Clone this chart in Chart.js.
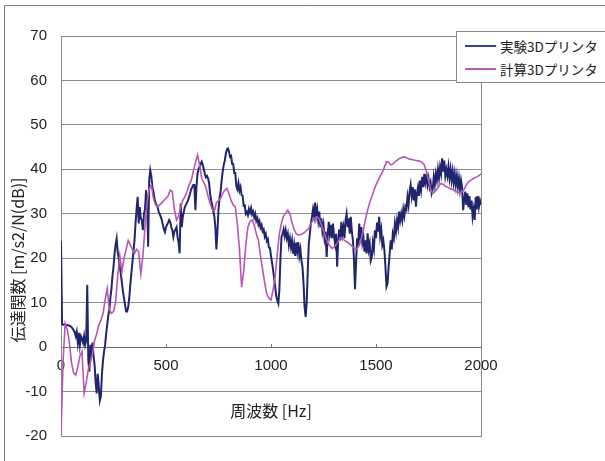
<!DOCTYPE html>
<html><head><meta charset="utf-8">
<script src="https://cdn.jsdelivr.net/npm/chart.js@4/dist/chart.umd.min.js"></script>
<style>
html,body{margin:0;padding:0;background:#fff;}
#wrap{position:relative;width:605px;height:461px;overflow:hidden;}
#legend{position:absolute;left:456px;top:31px;width:160px;height:52px;border:1px solid #8a8a8a;background:#fff;font-family:"Noto Sans CJK JP",sans-serif;font-size:13.5px;color:#222;box-sizing:border-box;}
.row{position:absolute;left:0;height:20px;line-height:20px;white-space:nowrap;}
.sw{position:absolute;left:8px;top:9px;width:31px;height:2px;}
.tx{position:absolute;left:43px;top:0;}
</style></head>
<body><div id="wrap"><canvas id="c" width="605" height="461"></canvas>
<div id="legend">
 <div class="row" style="top:4px"><span class="sw" style="background:#3b428f"></span><span class="tx">実験3Dプリンタ</span></div>
 <div class="row" style="top:27px"><span class="sw" style="background:#b85cb5"></span><span class="tx">計算3Dプリンタ</span></div>
</div></div>
<script>
// Frequency step of each series (Hz)
const blueStep = 5;
const purpleStep = 10;
const seriesNames = ["実験3Dプリンタ", "計算3Dプリンタ"];
const xTicks = [0, 500, 1000, 1500, 2000];
const yTicks = [70, 60, 50, 40, 30, 20, 10, 0, -10, -20];

// 実験3Dプリンタ (measured), 0..2000 Hz every 5 Hz
const blueValues = [
 23.7,5.2,5.0,5.1,5.0,4.9,5.0,4.9,4.8,4.7,4.5,4.2,3.8,3.4,2.5,3.5,1.0,3.2,0.5,2.5,
 2.0,1.0,2.5,0.5,1.5,14.0,-3.0,-5.5,0.5,-1.0,1.0,-2.0,-4.0,-8.0,-10.4,-6.0,-9.0,-12.0,-11.0,-6.0,
 -3.0,-1.0,0.5,3.0,5.0,7.0,8.3,11.0,13.0,16.0,18.0,21.0,23.0,24.4,21.5,20.0,18.0,16.5,14.5,12.5,
 11.0,9.5,8.0,8.0,9.0,11.0,14.0,16.6,19.0,21.5,24.0,28.0,31.0,33.8,27.8,31.5,29.0,28.5,26.3,30.0,
 31.0,35.3,33.0,22.6,37.6,39.8,38.5,36.0,35.0,33.5,32.5,32.0,31.5,30.5,30.0,29.3,28.6,27.5,26.5,25.9,
 27.0,27.5,28.0,28.6,28.2,27.0,26.3,24.8,26.0,26.5,27.0,24.8,23.5,21.1,32.3,27.0,29.3,30.5,31.6,32.0,
 32.5,33.0,33.8,34.6,35.5,36.0,36.5,36.5,30.8,36.0,39.0,40.0,40.6,41.2,41.7,41.0,40.0,39.0,38.2,38.5,
 38.0,37.0,34.5,33.0,32.0,30.5,29.5,27.0,22.0,26.0,31.0,33.5,35.0,37.5,39.5,41.0,42.0,43.5,44.5,44.7,
 44.0,42.8,43.0,41.2,41.2,39.2,39.2,36.2,35.5,36.9,35.2,36.0,34.2,34.0,31.8,31.9,30.0,30.4,29.7,31.1,
 30.3,31.3,29.9,30.5,29.2,30.0,28.4,29.0,27.6,28.3,26.9,27.5,26.1,26.5,24.9,25.5,23.9,24.3,22.4,22.3,
 20.5,19.0,17.3,15.5,13.5,11.5,10.5,9.8,13.0,20.0,24.8,25.5,26.5,25.0,26.3,24.5,25.5,23.0,24.5,22.5,
 24.0,21.0,23.0,20.5,23.5,21.5,23.6,20.5,22.0,19.5,18.0,14.3,9.0,6.8,10.0,17.0,23.3,25.5,28.0,29.3,
 31.0,29.5,32.5,29.5,31.0,28.5,30.5,27.0,29.0,26.0,27.5,24.5,26.0,20.3,25.0,28.2,25.5,27.5,24.5,27.8,
 25.0,23.3,25.5,18.1,24.0,26.5,24.0,28.2,25.5,27.0,24.5,28.5,30.0,27.0,29.0,25.5,29.3,26.0,24.0,20.0,
 13.0,19.0,24.5,22.5,27.8,25.0,27.0,23.5,24.8,21.5,24.0,21.1,25.6,22.0,23.3,19.5,20.3,23.5,22.0,26.3,
 24.5,28.0,26.0,29.3,25.0,26.5,23.0,24.0,21.8,18.0,13.6,14.3,18.0,21.0,24.0,22.0,25.5,24.5,27.8,26.0,
 28.5,27.0,30.5,28.5,30.0,28.5,31.0,29.5,31.6,31.0,33.8,32.0,35.0,36.5,34.0,36.0,33.0,35.5,31.6,34.5,
 36.0,34.0,37.5,35.5,38.3,36.0,39.0,37.0,38.5,36.5,38.0,36.0,37.0,34.6,35.5,38.3,36.5,39.0,37.5,40.0,
 38.0,40.5,39.0,42.5,39.5,42.0,38.5,40.0,38.5,40.6,38.0,40.0,37.5,39.5,37.0,39.0,36.5,38.5,36.0,38.0,
 35.5,37.5,36.0,30.8,33.0,35.0,32.0,34.6,31.5,34.0,31.0,33.0,29.3,31.0,28.6,33.8,31.0,34.0,31.5,33.0,32.0
];

// 計算3Dプリンタ (computed), 0..2000 Hz every 10 Hz
const purpleValues = [
 -20,-3,5.3,4.0,1.0,-3.5,-5.8,-6.3,-4.5,-2.0,
 -1.0,-10.4,-8.0,-5.0,-3.5,-1.5,1.5,3.0,5.0,6.0,
 7.5,10.6,13.2,8.5,7.6,8.0,10.0,16.0,20.5,17.0,
 20.0,22.0,24.0,23.0,22.0,21.1,22.0,21.5,16.5,20.5,
 27.0,32.5,35.5,36.5,33.5,32.0,31.6,32.0,32.5,33.0,
 33.5,34.0,35.3,35.0,31.0,28.6,29.5,31.5,33.0,33.8,
 35.0,36.5,37.5,39.5,41.5,43.2,41.0,38.0,37.0,36.0,
 34.0,32.3,31.0,30.5,32.5,33.0,33.5,34.6,35.3,35.7,
 34.5,33.0,32.0,31.6,27.5,22.0,13.5,17.0,23.0,27.0,
 28.3,28.6,27.5,25.5,24.0,20.5,17.5,14.5,12.0,11.0,
 10.6,12.8,16.0,21.0,25.5,28.0,29.5,30.2,30.8,30.0,
 28.0,26.5,25.5,25.2,25.3,25.5,25.8,26.3,26.7,27.8,
 28.6,29.0,29.3,28.8,27.5,26.3,24.8,23.5,22.8,22.2,
 22.5,23.0,23.8,24.6,24.5,24.0,23.7,23.4,23.0,22.5,
 22.2,22.2,23.0,24.5,26.3,28.8,30.8,32.5,33.8,35.3,
 36.5,37.5,38.5,39.3,40.5,41.7,41.6,41.0,41.2,41.7,
 42.0,42.4,42.6,42.8,42.7,42.5,42.3,42.2,42.1,42.0,
 41.9,41.8,41.5,41.0,39.5,37.5,35.5,34.6,35.0,35.5,
 36.3,36.8,36.6,36.2,36.0,35.7,35.5,35.4,35.0,34.8,
 34.6,34.9,35.5,36.5,37.2,37.5,37.8,38.1,38.3,38.6,39.0
];

const blueData = blueValues.map((v, i) => ({x: i * blueStep, y: v}));
const purpleData = purpleValues.map((v, i) => ({x: i * purpleStep, y: v}));

const framePlugin = {
  id: 'frame',
  beforeDraw(chart) {
    const ctx = chart.ctx;
    ctx.save();
    ctx.fillStyle = '#fff';
    ctx.fillRect(0, 0, chart.width, chart.height);
    ctx.strokeStyle = '#7a7a7a';
    ctx.lineWidth = 1;
    ctx.beginPath();
    ctx.moveTo(4.5, 461); ctx.lineTo(4.5, 5.5); ctx.lineTo(605, 5.5);
    ctx.stroke();
    ctx.restore();
  },
  beforeDatasetsDraw(chart) {
    const {ctx, chartArea: a} = chart;
    ctx.save();
    ctx.strokeStyle = '#8a8a8a';
    ctx.lineWidth = 1;
    ctx.strokeRect(Math.round(a.left) + 0.5, Math.round(a.top) + 0.5, Math.round(a.right - a.left), Math.round(a.bottom - a.top));
    ctx.restore();
  },
  afterDraw(chart) {
    const ctx = chart.ctx;
    ctx.save();
    ctx.translate(18, 260);
    ctx.rotate(-Math.PI / 2);
    ctx.fillStyle = '#222';
    ctx.font = '16px "Noto Sans CJK JP"';
    ctx.textAlign = 'center';
    ctx.textBaseline = 'middle';
    ctx.fillText('伝達関数 [m/s2/N(dB)]', 0, 0);
    ctx.restore();
  }
};

new Chart(document.getElementById('c'), {
  type: 'line',
  data: {
    datasets: [
      {label: seriesNames[1], data: purpleData, borderColor: '#b955b6', borderWidth: 1.6, pointRadius: 0, tension: 0, order: 0, fill: false},
      {label: seriesNames[0], data: blueData, borderColor: '#20256e', borderWidth: 2, pointRadius: 0, tension: 0, order: 1, fill: false}
    ]
  },
  options: {
    responsive: false,
    animation: false,
    devicePixelRatio: 1,
    layout: {padding: {left: 0, top: 36, right: 124, bottom: 25}},
    plugins: {legend: {display: false}, tooltip: {enabled: false}},
    scales: {
      x: {
        type: 'linear', min: 0, max: 2000,
        position: {y: 0},
        afterBuildTicks: s => { s.ticks = xTicks.map(v => ({value: v})); },
        grid: {drawOnChartArea: false, drawTicks: true, tickLength: -4, color: '#777'},
        border: {color: '#6e6e6e', width: 1},
        ticks: {padding: 14, maxRotation: 0, color: '#222', font: {family: '"Liberation Sans", Arial', size: 15}, callback: v => String(v)},
        title: {display: true, text: '周波数 [Hz]', color: '#222', font: {family: '"Noto Sans CJK JP"', size: 16}, padding: {top: 12, bottom: 0}}
      },
      y: {
        type: 'linear', min: -20, max: 70,
        afterBuildTicks: s => { s.ticks = yTicks.map(v => ({value: v})); },
        afterFit: s => { s.width = 61; },
        grid: {color: '#8c8c8c', lineWidth: 1, drawTicks: false},
        border: {color: '#7a7a7a'},
        ticks: {padding: 14, color: '#222', font: {family: '"Liberation Sans", Arial', size: 15}, callback: v => String(v)}
      }
    }
  },
  plugins: [framePlugin]
});
</script></body></html>
